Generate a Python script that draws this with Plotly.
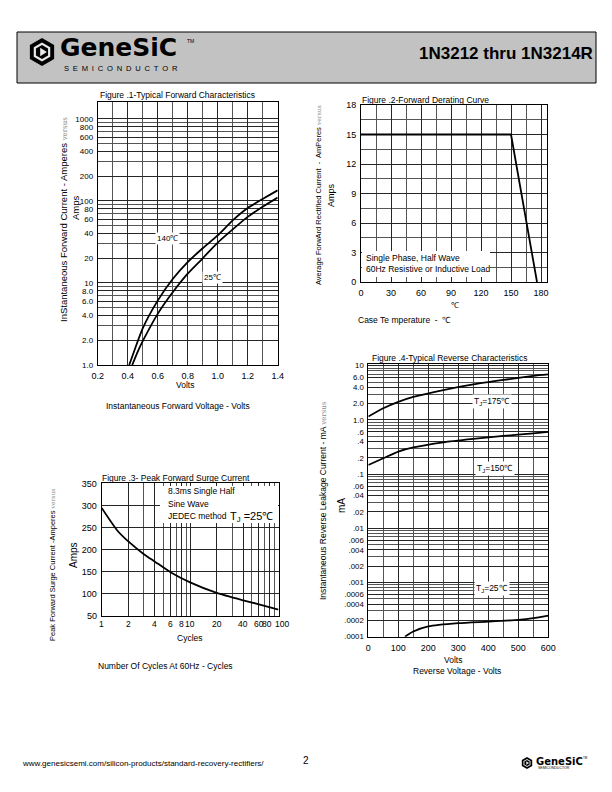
import math
import plotly.graph_objects as go

W, H = 612, 792
OFF = 8  # the page body adds an 8 px margin; compensate so positions match the page


def px(x):
    return (x - OFF) / W


def py(y):
    return 1 - (y - OFF) / H


FONT = "Liberation Sans, Arial, sans-serif"

# ---------------- data ----------------
# Figure 1 - Typical forward characteristics
fig1_v_140 = [0.41, 0.45, 0.5, 0.6, 0.7, 0.8, 0.9, 1.0, 1.1, 1.2, 1.3, 1.4]
fig1_i_140 = [1.0, 1.6, 2.8, 6.1, 11.2, 18, 26.5, 38, 58, 82, 106, 135]
fig1_v_25 = [0.43, 0.47, 0.5, 0.6, 0.7, 0.8, 0.9, 1.0, 1.1, 1.2, 1.3, 1.4]
fig1_i_25 = [1.0, 1.5, 1.95, 4.2, 7.7, 13, 20, 31, 45, 64, 85, 110]
fig1_xticks = [0.2, 0.4, 0.6, 0.8, 1.0, 1.2, 1.4]
fig1_yticks = [1, 2, 4, 6, 8, 10, 20, 40, 60, 80, 100, 200, 400, 600, 800, 1000]
fig1_yticklabels = ["1.0", "2.0", "4.0", "6.0", "8.0", "10", "20", "40", "60", "80",
                    "100", "200", "400", "600", "800", "1000"]

# Figure 2 - Forward derating curve
fig2_temp = [0, 150, 176]
fig2_amps = [15, 15, 0]
fig2_xticks = [0, 30, 60, 90, 120, 150, 180]
fig2_yticks = [0, 3, 6, 9, 12, 15, 18]

# Figure 3 - Peak forward surge current
fig3_cycles = [1, 1.5, 2, 3, 4, 6, 10, 20, 40, 60, 100]
fig3_amps = [295, 244, 219, 190, 173, 149, 126, 102, 85, 76, 64]
fig3_xticks = [1, 2, 4, 6, 8, 10, 20, 40, 60, 80, 100]
fig3_xticklabels = ["1", "2", "4", "6", "8", "10", "20", "40", "60", "80", "100"]
fig3_yticks = [50, 100, 150, 200, 250, 300, 350]

# Figure 4 - Typical reverse characteristics
fig4_v_175 = [0, 50, 100, 150, 250, 350, 450, 550, 600]
fig4_i_175 = [1.15, 1.64, 2.15, 2.65, 3.55, 4.5, 5.45, 6.5, 6.9]
fig4_v_150 = [0, 50, 100, 150, 250, 350, 450, 550, 600]
fig4_i_150 = [0.147, 0.196, 0.26, 0.31, 0.385, 0.445, 0.505, 0.565, 0.6]
fig4_v_25 = [122, 150, 200, 300, 400, 500, 550, 600]
fig4_i_25 = [0.0001, 0.000125, 0.000155, 0.000178, 0.00019, 0.000205, 0.00022, 0.000245]
fig4_xticks = [0, 100, 200, 300, 400, 500, 600]
fig4_yticks = [0.0001, 0.0002, 0.0004, 0.0006, 0.001, 0.002, 0.004, 0.006, 0.01, 0.02,
               0.04, 0.06, 0.1, 0.2, 0.4, 0.6, 1, 2, 4, 6, 10]
fig4_yticklabels = [".0001", ".0002", ".0004", ".0006", ".001", ".002", ".004", ".006",
                    ".01", ".02", ".04", ".06", ".1", ".2", ".4", ".6", "1.0", "2.0",
                    "4.0", "6.0", "10"]


def log_grid(d0, d1):
    vals = []
    for d in range(d0, d1):
        for k in range(1, 10):
            vals.append(round(k * 10 ** d, 8))
    vals.append(round(10 ** d1, 8))
    return vals


# ---------------- figure ----------------
fig = go.Figure()
curve = dict(color="black", width=1.8, shape="spline", smoothing=0.6)

fig.add_trace(go.Scatter(x=fig1_v_140, y=fig1_i_140, xaxis="x", yaxis="y", mode="lines", line=curve, hoverinfo="skip"))
fig.add_trace(go.Scatter(x=fig1_v_25, y=fig1_i_25, xaxis="x", yaxis="y", mode="lines", line=curve, hoverinfo="skip"))
fig.add_trace(go.Scatter(x=fig2_temp, y=fig2_amps, xaxis="x2", yaxis="y2", mode="lines",
                         line=dict(color="black", width=1.8), hoverinfo="skip"))
fig.add_trace(go.Scatter(x=fig3_cycles, y=fig3_amps, xaxis="x3", yaxis="y3", mode="lines", line=curve, hoverinfo="skip"))
fig.add_trace(go.Scatter(x=fig4_v_175, y=fig4_i_175, xaxis="x4", yaxis="y4", mode="lines", line=curve, hoverinfo="skip"))
fig.add_trace(go.Scatter(x=fig4_v_150, y=fig4_i_150, xaxis="x4", yaxis="y4", mode="lines", line=curve, hoverinfo="skip"))
fig.add_trace(go.Scatter(x=fig4_v_25, y=fig4_i_25, xaxis="x4", yaxis="y4", mode="lines", line=curve, hoverinfo="skip"))

GRID = "#262626"
MINOR = "#555555"


def ax(**kw):
    d = dict(showline=True, linecolor="black", linewidth=1, mirror=True, ticks="",
             showgrid=True, gridcolor=GRID, gridwidth=1, zeroline=False, automargin=False,
             tickangle=0, ticklabelstandoff=2,
             tickfont=dict(family=FONT, size=9, color="black"), fixedrange=True)
    d.update(kw)
    return d


def minor(vals):
    return dict(tickvals=vals, showgrid=True, gridcolor=MINOR, gridwidth=1, ticks="")


fig.update_layout(
    xaxis=ax(domain=[px(97.7), px(277.7)], anchor="y", range=[0.2, 1.4],
             tickvals=fig1_xticks, ticktext=["%.1f" % v for v in fig1_xticks],
             minor=minor([0.3, 0.5, 0.7, 0.9, 1.1, 1.3])),
    yaxis=ax(domain=[py(365), py(102)], anchor="x", type="log", range=[0, 3.207],
             tickvals=fig1_yticks, ticktext=fig1_yticklabels,
             tickfont=dict(family=FONT, size=8, color="black"),
             minor=minor(log_grid(0, 3))),
    xaxis2=ax(domain=[px(361), px(547)], anchor="y2", range=[0, 186],
              tickvals=fig2_xticks, minor=minor([15, 45, 75, 105, 135, 165])),
    yaxis2=ax(domain=[py(282), py(105)], anchor="x2", range=[0, 18],
              tickvals=fig2_yticks, minor=minor([1.5, 4.5, 7.5, 10.5, 13.5, 16.5])),
    xaxis3=ax(domain=[px(101.7), px(278.5)], anchor="y3", type="log", range=[0, 2],
              tickvals=fig3_xticks, showticklabels=False,
              minor=minor(log_grid(0, 2))),
    yaxis3=ax(domain=[py(615.7), py(483)], anchor="x3", range=[50, 352],
              tickvals=fig3_yticks),
    xaxis4=ax(domain=[px(368.3), px(548.3)], anchor="y4", range=[0, 600],
              tickvals=fig4_xticks, minor=minor([50, 150, 250, 350, 450, 550])),
    yaxis4=ax(domain=[py(636.7), py(364)], anchor="x4", type="log", range=[-4, 1.031],
              tickvals=fig4_yticks, ticktext=fig4_yticklabels,
              tickfont=dict(family=FONT, size=7.8, color="black"),
              minor=minor(log_grid(-4, 1))),
)

ann = []
shapes = []


def text(x, y, s, size=8.5, anchor="center", color="black", angle=0, bold=False,
         bg=None, family=FONT, yanchor="middle"):
    if bold:
        s = "<b>" + s + "</b>"
    d = dict(x=px(x), y=py(y), xref="paper", yref="paper", text=s, showarrow=False,
             xanchor=anchor, yanchor=yanchor, textangle=angle,
             font=dict(family=family, size=size, color=color), borderpad=1)
    if bg:
        d["bgcolor"] = bg
    ann.append(d)


def rect(x0, y0, x1, y1, fill="white", line=None, layer="above"):
    shapes.append(dict(type="rect", xref="paper", yref="paper", x0=px(x0), x1=px(x1),
                       y0=py(y1), y1=py(y0), fillcolor=fill, layer=layer,
                       line=dict(width=1 if line else 0, color=line or fill)))


def hexpath(cx, cy, r):
    pts = []
    for i in range(6):
        a = math.radians(60 * i + 30)
        pts.append((px(cx + r * math.cos(a)), py(cy + r * math.sin(a))))
    return "M " + " L ".join("%f,%f" % p for p in pts) + " Z"


def tripath(cx, cy, r):
    pts = [(cx - r * 0.6, cy - r), (cx + r, cy), (cx - r * 0.6, cy + r)]
    return "M " + " L ".join("%f,%f" % (px(a), py(b)) for a, b in pts) + " Z"


def logo(cx, cy, r):
    shapes.append(dict(type="path", xref="paper", yref="paper", path=hexpath(cx, cy, r),
                       fillcolor="black", line=dict(width=0), layer="above"))
    shapes.append(dict(type="path", xref="paper", yref="paper", path=hexpath(cx, cy, r * 0.68),
                       fillcolor="#e8e8e8", line=dict(width=0), layer="above"))
    shapes.append(dict(type="path", xref="paper", yref="paper", path=hexpath(cx, cy, r * 0.5),
                       fillcolor="black", line=dict(width=0), layer="above"))
    shapes.append(dict(type="path", xref="paper", yref="paper", path=tripath(cx + r * 0.05, cy, r * 0.3),
                       fillcolor="#e8e8e8", line=dict(width=0), layer="above"))


# ---- header ----
rect(17, 32, 596, 83, fill="#c2c2c2", line="black", layer="below")
logo(42, 52, 14)
text(58, 48, "GeneSiC", size=25, anchor="left", bold=True, family="DejaVu Sans")
text(185, 41, "TM", size=5, anchor="left")
text(62, 68, "\u2002".join("SEMICONDUCTOR"), size=7.6, anchor="left")
text(595, 54, "1N3212 thru 1N3214R", size=17, anchor="right", bold=True)

# ---- figure 1 ----
text(98, 95, "Figure .1-Typical Forward Characteristics", size=8.5, anchor="left")
text(63, 220, "InStantaneous Forward Current - Amperes "
     "<span style='font-size:7px;color:#888;font-family:DejaVu Serif'>versus</span>",
     size=9.5, angle=-90)
text(75, 208, "Amps", size=9.5, angle=-90)
text(167, 238, "140\u2103", size=8, bg="white")
text(212, 277, "25\u2103", size=8, bg="white")
text(185, 385, "Volts", size=8.5)
text(178, 406, "Instantaneous Forward Voltage - Volts", size=8.5)

# ---- figure 2 ----
text(360, 100, "Figure .2-Forward Derating Curve", size=8.5, anchor="left")
text(318, 195, "Average ForwArd Rectified Current  -  AmPeres "
     "<span style='font-size:6px;color:#888;font-family:DejaVu Serif'>versus</span>",
     size=7.5, angle=-90)
text(331, 195, "Amps", size=9, angle=-90)
rect(362, 251, 490, 277)
text(364, 258, "Single Phase, Half Wave", size=8.5, anchor="left")
text(364, 269, "60Hz Resistive or Inductive Load", size=8.5, anchor="left")
text(455, 305, "\u2103", size=8)
text(356, 320, "Case Te mperature  -  \u2103", size=8.5, anchor="left")

# ---- figure 3 ----
text(100, 478, "Figure .3- Peak Forward Surge Current", size=8.5, anchor="left")
text(52, 565, "Peak Forward Surge Current -Amperes "
     "<span style='font-size:6px;color:#888;font-family:DejaVu Serif'>versus</span>",
     size=7.5, angle=-90)
text(73, 555, "Amps", size=10, angle=-90)
rect(160, 486, 278, 523)
text(166, 491, "8.3ms Single Half", size=8.5, anchor="left")
text(166, 504, "Sine Wave", size=8.5, anchor="left")
text(166, 516, "JEDEC method", size=8.5, anchor="left")
text(251, 517, "T<sub>J</sub> =25\u2103", size=11)
text(190, 638, "Cycles", size=8.5)
text(165, 666, "Number Of Cycles At 60Hz - Cycles", size=8.5)
# x tick labels of figure 3, placed on its log axis (crowded ones nudged apart)
nudge = {80: -3, 100: 3}
for v, lab in zip(fig3_xticks, fig3_xticklabels):
    ann.append(dict(x=math.log10(v), xref="x3", y=py(624), yref="paper", text=lab,
                    showarrow=False, xanchor="center", yanchor="middle",
                    xshift=nudge.get(v, 0), font=dict(family=FONT, size=8.5, color="black")))

# ---- figure 4 ----
text(370, 358, "Figure .4-Typical Reverse Characteristics", size=8.5, anchor="left")
text(323, 500, "Instantaneous Reverse Leakage Current - mA "
     "<span style='font-size:7px;color:#888;font-family:DejaVu Serif'>versus</span>",
     size=8.5, angle=-90)
text(342, 505, "mA", size=10, angle=-90)
text(492, 401, "T<sub>J</sub>=175\u2103", size=8.5, bg="white")
text(495, 468, "T<sub>J</sub>=150\u2103", size=8.5, bg="white")
text(492, 588, "T<sub>J</sub>=25\u2103", size=8.5, bg="white")
text(453, 660, "Volts", size=8.5)
text(457, 671, "Reverse Voltage - Volts", size=8.5)

# ---- footer ----
text(20, 763, "www.genesicsemi.com/silicon-products/standard-recovery-rectifiers/", size=8, anchor="left")
text(306, 760, "2", size=10)
logo(527, 763, 6)
text(534, 761, "GeneSiC", size=10, anchor="left", bold=True, family="DejaVu Sans")
text(581, 758, "TM", size=3, anchor="left")
text(536, 768, "SEMICONDUCTOR", size=3.5, anchor="left")

fig.update_layout(
    width=W, height=H,
    margin=dict(l=0, r=0, t=0, b=0, pad=0, autoexpand=False),
    paper_bgcolor="white", plot_bgcolor="white", showlegend=False,
    annotations=ann, shapes=shapes,
    font=dict(family=FONT, color="black"),
)

fig.write_html("out.html")
